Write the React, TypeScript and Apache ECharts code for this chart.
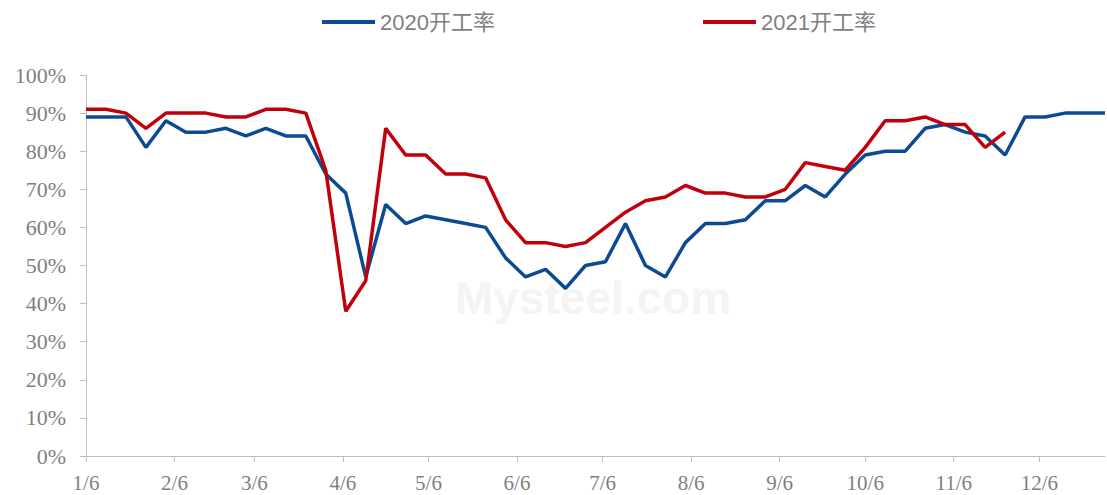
import React, { useEffect, useRef } from "react";
import * as echarts from "echarts";

// Weekly points: one every 7 days, starting at 1/6
const WEEK_DAYS = 7;

const rate2020: number[] = [
  89, 89, 89, 81, 88, 85, 85, 86, 84, 86, 84, 84, 74, 69, 47, 66, 61, 63, 62, 61,
  60, 52, 47, 49, 44, 50, 51, 61, 50, 47, 56, 61, 61, 62, 67, 67, 71, 68, 74, 79,
  80, 80, 86, 87, 85, 84, 79, 89, 89, 90, 90, 90,
];

const rate2021: number[] = [
  91, 91, 90, 86, 90, 90, 90, 89, 89, 91, 91, 90, 75, 38, 46, 86, 79, 79, 74, 74,
  73, 62, 56, 56, 55, 56, 60, 64, 67, 68, 71, 69, 69, 68, 68, 70, 77, 76, 75, 81,
  88, 88, 89, 87, 87, 81, 85,
];

// Month tick positions (day offsets from 1/6) and their labels
const tickDays: number[] = [0, 31, 59, 90, 120, 151, 181, 212, 243, 273, 304, 334];
const tickLabels: string[] = ["1/6", "2/6", "3/6", "4/6", "5/6", "6/6", "7/6", "8/6", "9/6", "10/6", "11/6", "12/6"];

const seriesNames = ["2020开工率", "2021开工率"];

export default function App() {
  const ref = useRef<HTMLDivElement>(null);

  useEffect(() => {
    document.body.style.margin = "0";
    if (!ref.current) return;
    const chart = echarts.init(ref.current, undefined, { renderer: "svg" });
    const toPairs = (arr: number[]) => arr.map((v, i) => [i * WEEK_DAYS, v]);
    const maxDay = (rate2020.length - 1) * WEEK_DAYS;
    const labelColor = "#7f7f7f";
    const axisColor = "#bfbfbf";
    const legendText = {
      color: labelColor,
      fontSize: 22,
      fontFamily: "'Liberation Sans', 'Noto Sans CJK SC', sans-serif",
    };

    chart.setOption({
      animation: false,
      backgroundColor: "#ffffff",
      graphic: [
        {
          type: "text",
          left: 455,
          top: 275,
          silent: true,
          style: {
            text: "Mysteel.com",
            fill: "#f4f4f4",
            font: "bold 46px 'Liberation Sans', Arial, sans-serif",
          },
          z: -1,
        },
      ],
      legend: [
        {
          data: [seriesNames[0]],
          left: 322,
          top: 11,
          padding: 0,
          icon: "rect",
          itemWidth: 53,
          itemHeight: 4,
          textStyle: legendText,
        },
        {
          data: [seriesNames[1]],
          left: 703,
          top: 11,
          padding: 0,
          icon: "rect",
          itemWidth: 53,
          itemHeight: 4,
          textStyle: legendText,
        },
      ],
      grid: { left: 86, right: 2, top: 75, bottom: 39, containLabel: false },
      xAxis: {
        type: "value",
        min: 0,
        max: maxDay,
        splitLine: { show: false },
        axisLine: { show: true, lineStyle: { color: axisColor, width: 1 } },
        axisTick: {
          show: true,
          customValues: tickDays,
          length: 6,
          lineStyle: { color: axisColor },
        },
        axisLabel: {
          customValues: tickDays,
          color: labelColor,
          fontSize: 21,
          fontFamily: "'Liberation Serif', 'Times New Roman', serif",
          margin: 16,
          formatter: (val: number) => {
            const idx = tickDays.indexOf(Math.round(val));
            return idx >= 0 ? tickLabels[idx] : "";
          },
        },
      },
      yAxis: {
        type: "value",
        min: 0,
        max: 100,
        interval: 10,
        splitLine: { show: false },
        axisLine: { show: true, lineStyle: { color: axisColor, width: 1 } },
        axisTick: { show: true, length: 6, lineStyle: { color: axisColor } },
        axisLabel: {
          color: labelColor,
          fontSize: 22,
          fontFamily: "'Liberation Serif', 'Times New Roman', serif",
          margin: 20,
          formatter: "{value}%",
        },
      },
      series: [
        {
          name: seriesNames[0],
          type: "line",
          data: toPairs(rate2020),
          showSymbol: false,
          symbol: "none",
          lineStyle: { color: "#0d4a94", width: 3.5 },
          itemStyle: { color: "#0d4a94" },
          z: 2,
        },
        {
          name: seriesNames[1],
          type: "line",
          data: toPairs(rate2021),
          showSymbol: false,
          symbol: "none",
          lineStyle: { color: "#c0000b", width: 3.5 },
          itemStyle: { color: "#c0000b" },
          z: 3,
        },
      ],
    });

    return () => chart.dispose();
  }, []);

  return <div ref={ref} style={{ width: 1107, height: 495 }} />;
}
